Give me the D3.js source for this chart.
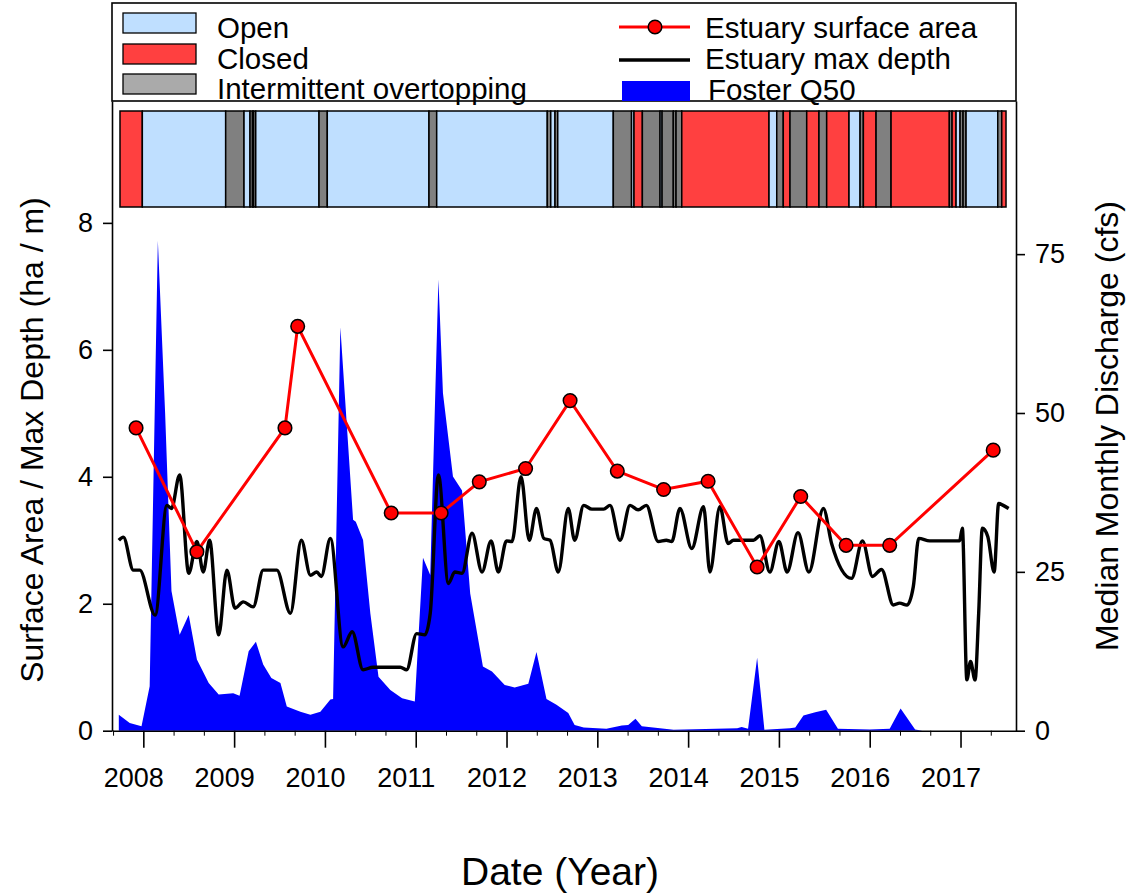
<!DOCTYPE html>
<html><head><meta charset="utf-8">
<script src="https://cdn.jsdelivr.net/npm/d3@7"></script>
<style>
body{margin:0;background:#fff}
text{font-family:"Liberation Sans",Arial,sans-serif;fill:#000}
</style>
</head><body>
<svg id="c" width="1139" height="894"></svg>
<script>
// ---------------- data ----------------
const yearTicks = [2008,2009,2010,2011,2012,2013,2014,2015,2016,2017];
const leftTicks = [0,2,4,6,8];
const rightTicks = [0,25,50,75];

// Estuary surface area (ha)
const areaDates  = [2007.92,2008.59,2009.56,2009.70,2010.73,2011.28,2011.70,2012.21,2012.70,2013.22,2013.73,2014.22,2014.76,2015.24,2015.74,2016.22,2017.36];
const areaValues = [4.77,2.82,4.77,6.37,3.43,3.43,3.92,4.13,5.20,4.09,3.80,3.93,2.58,3.69,2.92,2.92,4.42];

// Estuary max depth (m)
const depthDates = [2007.73,2007.78,2007.89,2007.96,2008.13,2008.26,2008.31,2008.40,2008.50,2008.59,2008.66,2008.73,2008.83,2008.92,2009.01,2009.10,2009.21,2009.32,2009.47,2009.62,2009.74,2009.84,2009.91,2009.96,2010.06,2010.20,2010.30,2010.42,2010.53,2010.83,2010.90,2011.01,2011.10,2011.16,2011.25,2011.36,2011.43,2011.51,2011.62,2011.73,2011.83,2011.91,2012.00,2012.06,2012.16,2012.25,2012.33,2012.41,2012.48,2012.57,2012.68,2012.75,2012.85,2012.94,2013.07,2013.14,2013.25,2013.36,2013.45,2013.54,2013.67,2013.76,2013.82,2013.91,2014.04,2014.17,2014.24,2014.35,2014.44,2014.50,2014.72,2014.79,2014.90,2015.00,2015.09,2015.21,2015.33,2015.49,2015.58,2015.80,2015.92,2016.03,2016.13,2016.26,2016.33,2016.41,2016.48,2016.54,2016.66,2016.99,2017.02,2017.07,2017.11,2017.16,2017.20,2017.24,2017.30,2017.37,2017.42,2017.47,2017.53];
const depthValues = [3.00,3.05,2.53,2.53,1.82,3.55,3.50,4.03,2.48,2.98,2.50,3.00,1.51,2.53,1.93,2.03,1.95,2.53,2.53,1.85,3.00,2.45,2.50,2.43,3.03,1.32,1.56,0.96,1.00,1.00,0.96,1.53,1.51,1.85,4.03,2.32,2.50,2.48,3.11,2.50,2.99,2.50,2.99,2.98,4.00,3.00,3.50,3.03,3.00,2.50,3.50,3.00,3.55,3.49,3.49,3.55,3.00,3.55,3.48,3.55,2.98,3.00,2.98,3.50,2.87,3.53,2.50,3.53,2.95,3.00,3.00,3.07,2.50,2.98,2.50,3.12,2.50,3.50,2.95,2.40,2.99,2.43,2.54,1.98,2.01,1.98,2.27,3.03,2.99,2.99,3.19,0.80,1.09,0.80,1.85,3.19,3.06,2.50,3.58,3.55,3.50];

// Foster Q50 median monthly discharge (cfs)
const flowDates = [2007.73,2007.85,2007.98,2008.07,2008.16,2008.24,2008.31,2008.40,2008.50,2008.59,2008.72,2008.83,2008.99,2009.06,2009.16,2009.24,2009.32,2009.41,2009.51,2009.58,2009.73,2009.84,2009.95,2010.06,2010.09,2010.17,2010.31,2010.34,2010.42,2010.50,2010.59,2010.72,2010.85,2010.99,2011.08,2011.16,2011.25,2011.30,2011.41,2011.51,2011.60,2011.74,2011.84,2011.98,2012.09,2012.24,2012.33,2012.44,2012.55,2012.68,2012.75,2012.85,2013.10,2013.27,2013.34,2013.42,2013.49,2013.69,2013.84,2014.54,2014.59,2014.66,2014.76,2014.84,2015.12,2015.18,2015.27,2015.40,2015.52,2015.65,2016.00,2016.22,2016.34,2016.50,2016.58];
const flowValues = [2.5,1.2,0.7,7.0,77.1,50.0,22.0,15.1,18.2,11.2,7.5,5.7,5.9,5.5,12.5,14.0,10.4,8.3,7.5,3.8,3.0,2.5,3.0,4.9,5.0,63.5,33.2,32.9,30.0,18.5,8.5,6.4,5.1,4.6,27.2,24.5,71.0,53.1,40.0,37.8,21.6,10.1,9.3,7.2,6.8,7.4,12.4,5.0,4.1,2.8,0.9,0.5,0.3,0.8,0.9,1.9,0.7,0.4,0.15,0.4,0.6,0.3,11.5,0.15,0.4,0.5,2.4,2.9,3.3,0.3,0.2,0.3,3.5,0.2,0.0];

// Mouth status periods: boundaries (n+1) and codes (n): O=open, C=closed, I=intermittent overtopping
const statusBounds = [2007.743,2007.989,2008.907,2009.109,2009.175,2009.203,2009.214,2009.238,2009.935,2010.026,2011.146,2011.231,2012.449,2012.487,2012.534,2012.564,2013.176,2013.377,2013.404,2013.496,2013.691,2013.713,2013.837,2013.867,2013.930,2014.891,2014.976,2015.048,2015.122,2015.306,2015.441,2015.526,2015.772,2015.894,2015.930,2016.070,2016.235,2016.877,2016.907,2016.951,2016.995,2017.028,2017.061,2017.410,2017.454,2017.501];
const statusCodes  = ["C","O","I","O","I","O","I","O","I","O","I","O","I","O","I","O","I","O","C","I","O","I","I","I","C","O","I","C","I","C","I","C","O","I","C","I","C","I","C","O","I","I","O","I","C"];

const statusNames = ["Open","Closed","Intermittent overtopping"];
const seriesNames = ["Estuary surface area","Estuary max depth","Foster Q50"];

// ---------------- drawing ----------------
const svg = d3.select("#c");
const L = 112, R = 1016, B = 730.7, T = 101;
const x = d3.scaleLinear().domain([2007.655, 2017.611]).range([L, R]);
const yL = d3.scaleLinear().domain([0, 9.92]).range([B, T]);
const yR = d3.scaleLinear().domain([0, 99.1]).range([B, T]);

const statusFill = {O:"#bfdfff", C:"#ff4040", I:"#808080"};

// discharge area
const flow = flowDates.map((d,i)=>({t:d,v:flowValues[i]}));
svg.append("path").datum(flow)
  .attr("d", d3.area().x(d=>x(d.t)).y0(yR(0)).y1(d=>yR(d.v)))
  .attr("fill","#0000ff");

// depth line
const depth = depthDates.map((d,i)=>({t:d,v:depthValues[i]}));
svg.append("path").datum(depth)
  .attr("d", d3.line().x(d=>x(d.t)).y(d=>yL(d.v)).curve(d3.curveMonotoneX))
  .attr("fill","none").attr("stroke","#000").attr("stroke-width",3.4)
  .attr("stroke-linejoin","round");

// surface area line + markers
const area = areaDates.map((d,i)=>({t:d,v:areaValues[i]}));
svg.append("path").datum(area)
  .attr("d", d3.line().x(d=>x(d.t)).y(d=>yL(d.v)))
  .attr("fill","none").attr("stroke","#ff0000").attr("stroke-width",3);
svg.selectAll(".mk").data(area).enter().append("circle")
  .attr("cx",d=>x(d.t)).attr("cy",d=>yL(d.v)).attr("r",6.8)
  .attr("fill","#ff0000").attr("stroke","#000").attr("stroke-width",1.5);

// status bar
const segs = statusCodes.map((c,i)=>({c, a:statusBounds[i], b:statusBounds[i+1]}));
svg.selectAll(".seg").data(segs).enter().append("rect")
  .attr("x",d=>x(d.a)).attr("width",d=>x(d.b)-x(d.a))
  .attr("y",111).attr("height",96)
  .attr("fill",d=>statusFill[d.c]).attr("stroke","#000").attr("stroke-width",1.5);

// axes
const fs = "27px";
const gx = svg.append("g").attr("transform",`translate(0,${B})`)
  .call(d3.axisBottom(x).tickValues(yearTicks).tickFormat(d3.format("d")).tickSize(17).tickSizeOuter(0).tickPadding(20));
gx.selectAll("text").attr("font-size",fs).attr("dx",-10).attr("font-family","Liberation Sans, Arial, sans-serif");
const minor = [];
yearTicks.forEach(y=>{minor.push(y+1/3, y+2/3);});
minor.push(2007+2/3);
svg.append("g").attr("transform",`translate(0,${B})`)
  .call(d3.axisBottom(x).tickValues(minor.filter(v=>x(v)>=L && x(v)<=R)).tickFormat("").tickSize(5).tickSizeOuter(0))
  .select(".domain").remove();

const gl = svg.append("g").attr("transform",`translate(${L},0)`)
  .call(d3.axisLeft(yL).tickValues(leftTicks).tickSize(9).tickSizeOuter(0).tickPadding(10));
gl.selectAll("text").attr("font-size",fs).attr("font-family","Liberation Sans, Arial, sans-serif");

const gr = svg.append("g").attr("transform",`translate(${R},0)`)
  .call(d3.axisRight(yR).tickValues(rightTicks).tickSize(9).tickSizeOuter(0).tickPadding(10));
gr.selectAll("text").attr("font-size",fs).attr("font-family","Liberation Sans, Arial, sans-serif");

[gx,gl,gr].forEach(g=>{g.selectAll("path,line").attr("stroke","#000").attr("stroke-width",1.6);});

// axis titles
svg.append("text").attr("transform","translate(43,440) rotate(-90)")
  .attr("text-anchor","middle").attr("font-size","32px").text("Surface Area / Max Depth (ha / m)");
svg.append("text").attr("transform","translate(1118,426) rotate(-90)")
  .attr("text-anchor","middle").attr("font-size","32px").text("Median Monthly Discharge (cfs)");
svg.append("text").attr("x",560).attr("y",885)
  .attr("text-anchor","middle").attr("font-size","39px").text("Date (Year)");

// legend
svg.append("rect").attr("x",112).attr("y",3).attr("width",904).attr("height",98)
  .attr("fill","none").attr("stroke","#000").attr("stroke-width",1.6);
const legFill = {O:"#bfdfff", C:"#ff4040", I:"#aaaaaa"};
const lgL = ["O","C","I"];
const rowsY = [13, 44, 74];
lgL.forEach((c,i)=>{
  svg.append("rect").attr("x",123).attr("y",rowsY[i]).attr("width",73).attr("height",20)
    .attr("fill",legFill[c]).attr("stroke","#000").attr("stroke-width",1.3);
  svg.append("text").attr("x",217).attr("y",rowsY[i]+25).attr("font-size","29.5px").text(statusNames[i]);
});
// right column
svg.append("line").attr("x1",619).attr("x2",690).attr("y1",27).attr("y2",27)
  .attr("stroke","#ff0000").attr("stroke-width",3);
svg.append("circle").attr("cx",655).attr("cy",27).attr("r",6.8)
  .attr("fill","#ff0000").attr("stroke","#000").attr("stroke-width",1.5);
svg.append("line").attr("x1",619).attr("x2",690).attr("y1",60).attr("y2",60)
  .attr("stroke","#000").attr("stroke-width",3.4);
svg.append("rect").attr("x",622).attr("y",81).attr("width",68).attr("height",20).attr("fill","#0000ff");
const rY = [38, 69, 100];
seriesNames.forEach((n,i)=>{
  svg.append("text").attr("x",i==2?708:705).attr("y",rY[i]).attr("font-size","29.5px").text(n);
});
</script>
</body></html>
